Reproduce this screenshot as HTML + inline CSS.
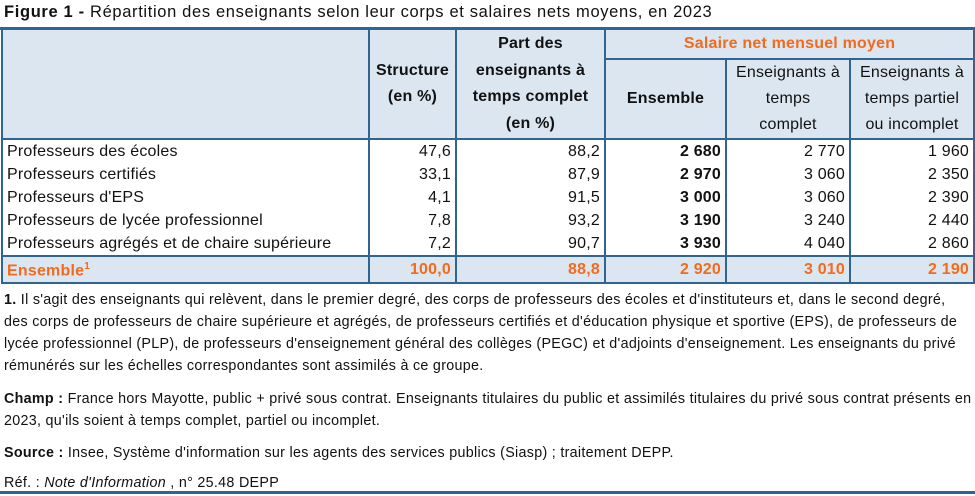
<!DOCTYPE html>
<html><head><meta charset="utf-8"><style>
body{margin:0;width:975px;height:496px;background:#fff;font-family:"Liberation Sans",sans-serif;color:#111;position:relative;overflow:hidden}
.t{position:absolute;white-space:nowrap;font-size:16.5px;letter-spacing:0.65px}
table{position:absolute;left:1px;top:28px;border-collapse:collapse;width:972px;font-size:16px;letter-spacing:0.2px;table-layout:fixed}
td{border-left:2px solid #2e6592;border-right:2px solid #2e6592;padding:0 4px;height:23px;line-height:20px;white-space:nowrap;overflow:visible}
.h td{background:#dce6f0;text-align:center;font-weight:bold;line-height:26.5px;border:2px solid #2e6592;padding:0}
.h td.n{font-weight:normal;line-height:26px}
.r td{text-align:right}
.r td:first-child{text-align:left}
.e td{background:#dce6f0;color:#f26b1d;font-weight:bold;text-align:right;border:2px solid #2e6592;height:25px}
.f{position:absolute;left:4px;font-size:14.3px;letter-spacing:0.3px;line-height:22px;width:968px}
</style></head><body>
<div class="t" style="left:4px;top:3px"><b>Figure 1 -</b> Répartition des enseignants selon leur corps et salaires nets moyens, en 2023</div>
<div style="position:absolute;left:0;top:27px;width:975px;height:3px;background:#2e6592"></div>
<table>
<colgroup><col style="width:367px"><col style="width:87px"><col style="width:149px"><col style="width:121px"><col style="width:124px"><col style="width:124px"></colgroup>
<tr class="h"><td rowspan="2"></td><td rowspan="2">Structure<br>(en %)</td><td rowspan="2">Part des<br>enseignants à<br>temps complet<br>(en %)</td><td colspan="3" style="color:#f26b1d;height:28px">Salaire net mensuel moyen</td></tr>
<tr class="h"><td style="height:77px">Ensemble</td><td class="n">Enseignants à<br>temps<br>complet</td><td class="n">Enseignants à<br>temps partiel<br>ou incomplet</td></tr>
<tr class="r"><td>Professeurs des écoles</td><td>47,6</td><td>88,2</td><td><b>2 680</b></td><td>2 770</td><td>1 960</td></tr>
<tr class="r"><td>Professeurs certifiés</td><td>33,1</td><td>87,9</td><td><b>2 970</b></td><td>3 060</td><td>2 350</td></tr>
<tr class="r"><td>Professeurs d'EPS</td><td>4,1</td><td>91,5</td><td><b>3 000</b></td><td>3 060</td><td>2 390</td></tr>
<tr class="r"><td>Professeurs de lycée professionnel</td><td>7,8</td><td>93,2</td><td><b>3 190</b></td><td>3 240</td><td>2 440</td></tr>
<tr class="r"><td>Professeurs agrégés et de chaire supérieure</td><td>7,2</td><td>90,7</td><td><b>3 930</b></td><td>4 040</td><td>2 860</td></tr>
<tr class="e"><td style="text-align:left">Ensemble<sup style="font-size:10px">1</sup></td><td>100,0</td><td>88,8</td><td>2 920</td><td>3 010</td><td>2 190</td></tr>
</table>
<div class="f" style="top:289px"><b>1.</b> Il s'agit des enseignants qui relèvent, dans le premier degré, des corps de professeurs des écoles et d'instituteurs et, dans le second degré, des corps de professeurs de chaire supérieure et agrégés, de professeurs certifiés et d'éducation physique et sportive (EPS), de professeurs de lycée professionnel (PLP), de professeurs d'enseignement général des collèges (PEGC) et d'adjoints d'enseignement. Les enseignants du privé rémunérés sur les échelles correspondantes sont assimilés à ce groupe.</div>
<div class="f" style="top:388px"><b>Champ :</b> France hors Mayotte, public + privé sous contrat. Enseignants titulaires du public et assimilés titulaires du privé sous contrat présents en 2023, qu'ils soient à temps complet, partiel ou incomplet.</div>
<div class="f" style="top:442px"><b>Source :</b> Insee, Système d'information sur les agents des services publics (Siasp) ; traitement DEPP.</div>
<div class="f" style="top:472px">Réf. : <i>Note d'Information</i> , n° 25.48 DEPP</div>
<div style="position:absolute;left:0;top:491px;width:975px;height:3px;background:#2e6592"></div>
</body></html>
